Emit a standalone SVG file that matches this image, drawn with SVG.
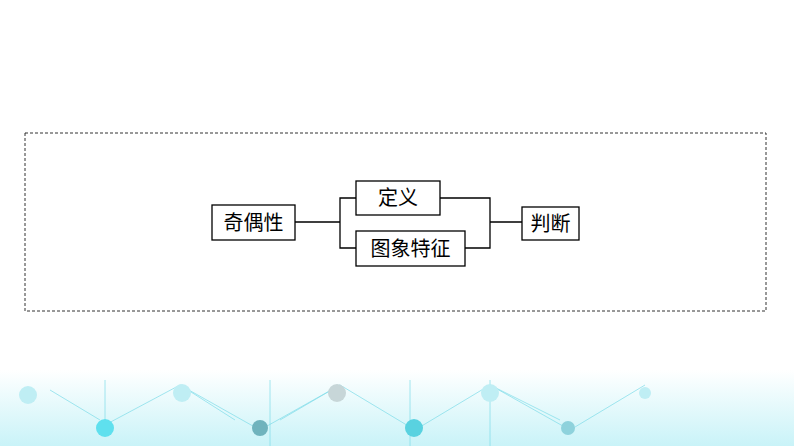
<svg xmlns="http://www.w3.org/2000/svg" width="794" height="446" viewBox="0 0 794 446">
<style>
.b{fill:#fff;stroke:#000;stroke-width:1.3}
.t{font-family:"Liberation Serif","Noto Sans CJK SC",serif;font-size:20px;fill:#000;text-anchor:middle;dominant-baseline:central}
.c{fill:none;stroke:#000;stroke-width:1.3}
.d{fill:none;stroke:#7ddbe8;stroke-width:1;opacity:.7}
</style>
<defs>
<linearGradient id="g" x1="0" y1="0" x2="0" y2="1">
<stop offset="0" stop-color="#fff"/><stop offset="1" stop-color="#c9f3f8"/>
</linearGradient>
</defs>
<rect width="794" height="446" fill="#fff"/>
<g id="background">
<rect x="0" y="370" width="794" height="76" fill="url(#g)"/>
<path class="d" d="M50 390 L100 420 M105 425 L180 385 L260 430 L340 385 L415 430 L490 385 L570 430 L645 385 M180 385 L235 420 M340 385 L280 420 M490 385 L560 420 M105 380 V430 M270 380 V446 M410 380 V446 M490 380 V446"/>
<g fill="#bfeef4"><circle cx="28" cy="395" r="9"/><circle cx="182" cy="393" r="9"/><circle cx="337" cy="393" r="9" fill="#c7d6d8"/><circle cx="490" cy="393" r="9"/><circle cx="645" cy="393" r="6"/></g>
<circle cx="105" cy="428" r="9" fill="#5fe0ee"/><circle cx="260" cy="428" r="8" fill="#6fb3bd"/><circle cx="414" cy="428" r="9" fill="#59d2e0"/><circle cx="568" cy="428" r="7" fill="#8ed2dc"/>
</g>
<rect x="25" y="133" width="741" height="178" fill="none" stroke="#333" stroke-width="1" stroke-dasharray="3,2"/>
<g id="connectors">
<path class="c" d="M295 222 H340 M356 198 H340 V248 H356 M440 198 H490 V248 H465 M490 222 H522"/>
</g>
<g id="n1"><rect class="b" x="212" y="205" width="83" height="35"/><text class="t" x="253.5" y="222.5">奇偶性</text></g>
<g id="n2"><rect class="b" x="356" y="181" width="84" height="34"/><text class="t" x="398" y="198">定义</text></g>
<g id="n3"><rect class="b" x="356" y="231" width="109" height="35"/><text class="t" x="410.5" y="248.5">图象特征</text></g>
<g id="n4"><rect class="b" x="522" y="207" width="57" height="33"/><text class="t" x="550.5" y="223.5">判断</text></g>
</svg>
